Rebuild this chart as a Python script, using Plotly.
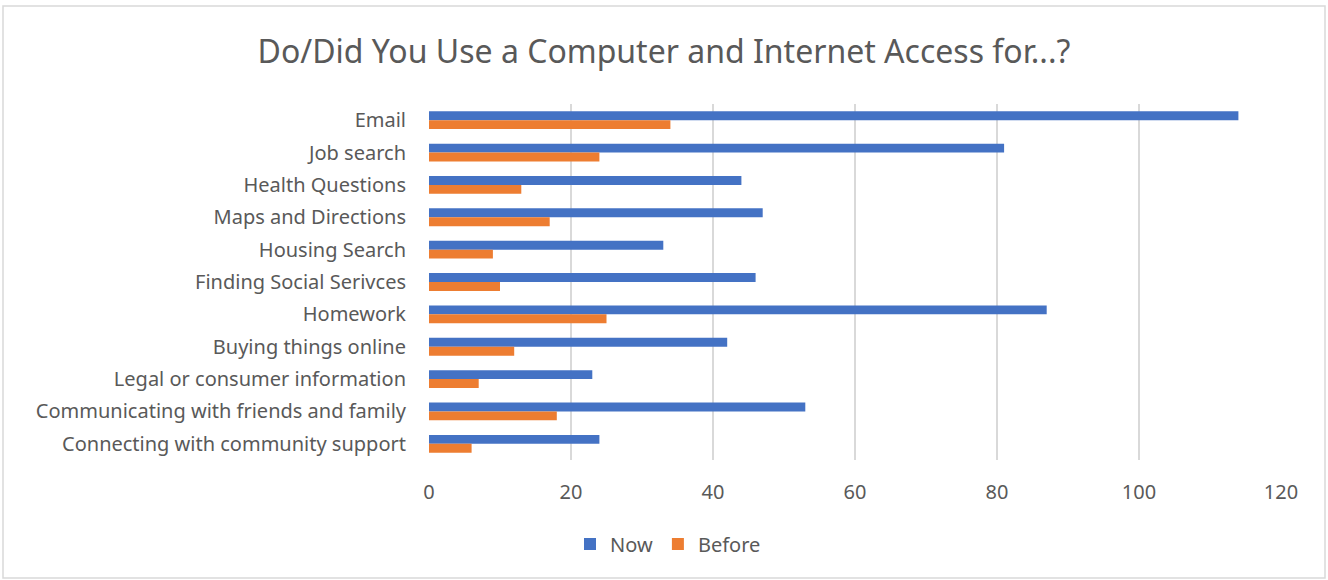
import plotly.graph_objects as go

categories = ["Email", "Job search", "Health Questions", "Maps and Directions", "Housing Search",
              "Finding Social Serivces", "Homework", "Buying things online",
              "Legal or consumer information", "Communicating with friends and family",
              "Connecting with community support"]
now_values = [114, 81, 44, 47, 33, 46, 87, 42, 23, 53, 24]
before_values = [34, 24, 13, 17, 9, 10, 25, 12, 7, 18, 6]
x_ticks = [0, 20, 40, 60, 80, 100, 120]

W, H = 1328, 580
L, R, T, B = 429, 1281, 104, 460

FONT = "Noto Sans"
GREY = "#595959"

fig = go.Figure()
fig.add_trace(go.Bar(y=categories, x=now_values, name="Now", orientation="h",
                     marker=dict(color="#4472C4", line=dict(width=0))))
fig.add_trace(go.Bar(y=categories, x=before_values, name="Before", orientation="h",
                     marker=dict(color="#ED7D31", line=dict(width=0))))

pw, ph = R - L, B - T
def px_x(x): return (x - L) / pw
def px_y(y): return (B - y) / ph

fig.update_layout(
    width=W, height=H,
    margin=dict(l=L, r=W - R, t=T, b=H - B, autoexpand=False),
    paper_bgcolor="white", plot_bgcolor="white",
    barmode="group", bargap=0.45, bargroupgap=0,
    font=dict(family=FONT, color=GREY),
    title=dict(text="Do/Did You Use a Computer and Internet Access for...?",
               x=664 / W, xanchor="center", y=1 - 52 / H, yanchor="middle",
               font=dict(size=32, color=GREY, family=FONT)),
    xaxis=dict(range=[0, 120], tickvals=x_ticks, showgrid=True, gridcolor="#d9d9d9",
               gridwidth=1.5, zeroline=False, showline=False, ticks="",
               tickfont=dict(size=20, color=GREY), ticklabelstandoff=18),
    yaxis=dict(autorange="reversed", showgrid=False, zeroline=False, showline=False,
               ticks="", tickfont=dict(size=20, color=GREY), ticklabelstandoff=22),
    legend=dict(orientation="h", x=px_x(668), xanchor="center", y=px_y(544), yanchor="middle",
                font=dict(size=20, color=GREY), traceorder="normal",
                itemwidth=30, itemsizing="constant"),
    shapes=[dict(type="rect", xref="paper", yref="paper",
                 x0=px_x(3), x1=px_x(1325), y0=px_y(578), y1=px_y(6),
                 line=dict(color="#d9d9d9", width=1.5), fillcolor="rgba(0,0,0,0)", layer="below")],
)

fig.write_html("out.html", config={"displayModeBar": False},
               post_script="document.body.style.margin='0';document.body.style.overflow='hidden';")
